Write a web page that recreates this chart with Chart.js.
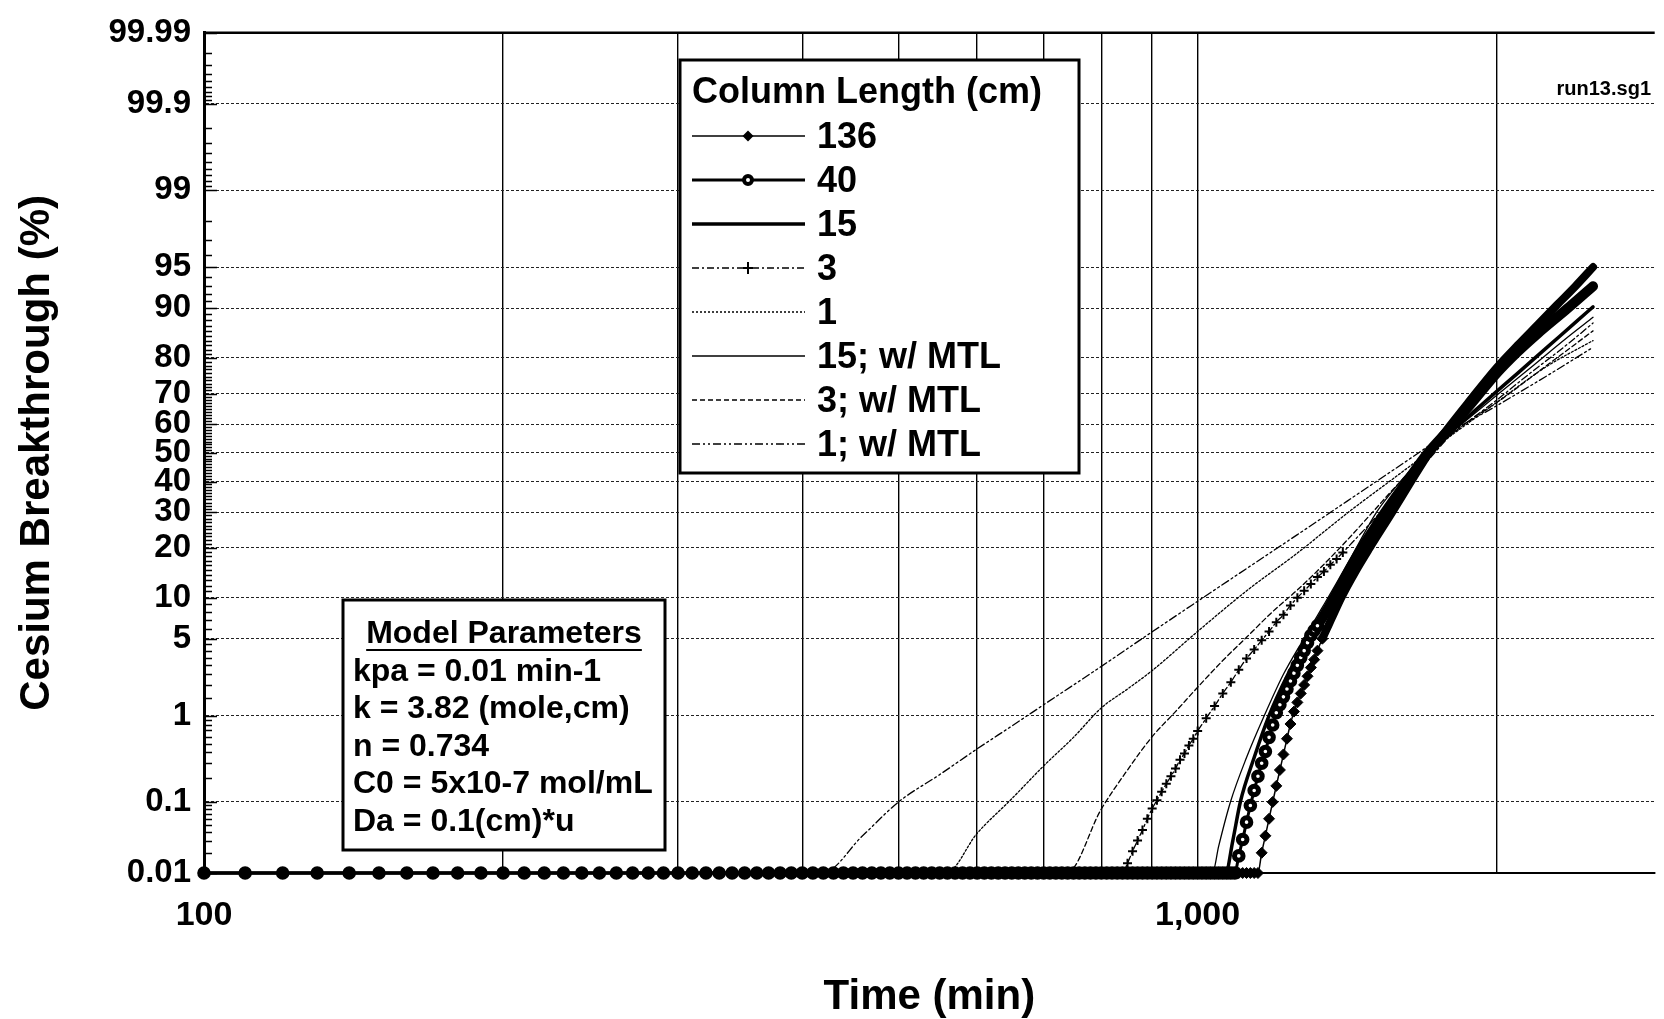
<!DOCTYPE html>
<html lang="en">
<head>
<meta charset="UTF-8">
<title>Cesium Breakthrough - run13</title>
<script src="https://cdn.jsdelivr.net/npm/chart.js"></script>
<style>
  html, body { margin: 0; padding: 0; background: #fff; overflow: hidden; }
</style>
</head>
<body>
<canvas id="breakthrough" width="1664" height="1019"></canvas>
<script>
// ---- values: time in min, breakthrough in % ----
const yTickValues = [0.01, 0.1, 1, 5, 10, 20, 30, 40, 50, 60, 70, 80, 90, 95, 99, 99.9, 99.99];
const yMinorRanges = [[0.01, 0.1, 0.01], [0.1, 1, 0.1], [1, 5, 0.5], [5, 10, 1], [10, 90, 1], [90, 99, 1], [99, 99.9, 0.1], [99.9, 99.99, 0.01]];
const xTickValues = [100, 200, 300, 400, 500, 600, 700, 800, 900, 1000, 2000];
const xTickLabels = { 100: '100', 1000: '1,000' };
const seriesNames = ['136', '40', '15', '3', '1', '15; w/ MTL', '3; w/ MTL', '1; w/ MTL'];
const modelParams = ['kpa = 0.01 min-1', 'k = 3.82 (mole,cm)', 'n = 0.734', 'C0 = 5x10-7 mol/mL', 'Da = 0.1(cm)*u'];

// model output sits on the 0.01 % floor (one point every 10 min) until breakthrough
const floorLevel = 0.01;
const floorTimes = [100, 110, 120, 130, 140, 150, 160, 170, 180, 190,
  200, 210, 220, 230, 240, 250, 260, 270, 280, 290,
  300, 310, 320, 330, 340, 350, 360, 370, 380, 390,
  400, 410, 420, 430, 440, 450, 460, 470, 480, 490,
  500, 510, 520, 530, 540, 550, 560, 570, 580, 590,
  600, 610, 620, 630, 640, 650, 660, 670, 680, 690,
  700, 710, 720, 730, 740, 750, 760, 770, 780, 790,
  800, 810, 820, 830, 840, 850, 860, 870, 880, 890,
  900, 910, 920, 930, 940, 950, 960, 970, 980, 990,
  1000, 1010, 1020, 1030, 1040, 1050, 1060, 1070, 1080, 1090,
  1100, 1110, 1120, 1130, 1140, 1150];

// 136 cm (diamonds)
const t136 = [1160, 1170, 1180, 1190, 1200, 1210, 1220, 1230, 1240, 1250, 1260, 1270, 1280, 1290, 1300, 1310, 1320, 1335,
  1365, 1395, 1440, 1490, 1570, 1640, 1710, 1780, 1870, 2000, 2100, 2200, 2300, 2400, 2500];
const p136 = [0.02, 0.035, 0.06, 0.10, 0.16, 0.25, 0.38, 0.57, 0.82, 1.1, 1.36, 1.66, 2.0, 2.4, 2.87, 3.36, 4.0, 5.0,
  7.2, 10, 14.5, 20, 30, 40, 50, 58, 67, 77.5, 83, 87.2, 90.5, 93, 95];

// 40 cm (circles)
const t40 = [1100, 1110, 1120, 1130, 1140, 1150, 1160, 1170, 1180, 1190, 1200, 1210, 1220, 1230, 1240, 1250, 1260, 1270,
  1280, 1290, 1300, 1310, 1320, 1374, 1420, 1470, 1550, 1625, 1705, 1790, 1890, 2000, 2100, 2200, 2350, 2500];
const p40 = [0.018, 0.031, 0.054, 0.09, 0.14, 0.21, 0.30, 0.41, 0.59, 0.80, 1.07, 1.29, 1.54, 1.83, 2.17, 2.56, 3.0, 3.5,
  4.0, 4.65, 5.3, 5.8, 6.3, 10, 14.3, 20, 30, 40, 50, 58.2, 67.3, 76, 81.5, 85.5, 89.8, 93];

// 15 cm
const t15 = [100, 1067, 1085, 1104, 1140, 1180, 1230, 1290, 1360, 1450, 1530, 1610, 1700, 1800, 1900, 2000, 2100, 2250, 2400, 2500];
const p15 = [0.01, 0.01, 0.03, 0.1, 0.35, 1, 2.4, 5, 10, 20, 30, 40, 50, 57.5, 64.5, 70.7, 76, 82.6, 87.6, 90.2];

// 3 cm (plus markers)
const t3 = [850, 860, 870, 880, 890, 900, 910, 920, 930, 940, 950, 960, 970, 980, 990, 1000,
  1020, 1040, 1060, 1080, 1100, 1120, 1140, 1160, 1180, 1200, 1220, 1240, 1260, 1280, 1300, 1320, 1340, 1360, 1380, 1400,
  1500, 1600, 1700, 1800, 1900, 2000, 2100, 2200, 2300, 2400, 2500];
const p3 = [0.014, 0.021, 0.030, 0.042, 0.060, 0.082, 0.105, 0.135, 0.17, 0.21, 0.26, 0.33, 0.39, 0.48, 0.57, 0.69,
  0.94, 1.25, 1.66, 2.12, 2.74, 3.44, 4.09, 4.85, 5.7, 6.7, 7.6, 8.85, 10, 11.1, 12.3, 13.6, 14.7, 16.1, 17.4, 18.9,
  27.4, 37.1, 46.8, 56.4, 62.6, 68, 73.2, 77.6, 81.3, 84.6, 87.5];

// 1 cm
const t1 = [100, 558, 600, 650, 700, 750, 800, 850, 900, 1000, 1122, 1259, 1413, 1585, 1778, 1995, 2239, 2500];
const p1 = [0.01, 0.01, 0.038, 0.11, 0.28, 0.59, 1.2, 1.83, 2.7, 5.7, 11.2, 18.7, 29.6, 41.8, 54.8, 67, 77.6, 84];

// 15 cm with mass transfer limitation
const t15m = [100, 1035, 1050, 1079, 1120, 1167, 1220, 1279, 1334, 1380, 1429, 1514, 1600, 1700, 1820, 2000, 2180, 2350, 2500];
const p15m = [0.01, 0.01, 0.025, 0.1, 0.35, 1, 2.5, 5, 8.5, 12.5, 18, 30, 40, 50, 58.5, 69.5, 78.2, 84.5, 88.5];

// 3 cm with MTL
const t3m = [100, 738, 800, 850, 900, 950, 1000, 1060, 1122, 1190, 1259, 1330, 1413, 1500, 1600, 1700, 1778, 1900, 2000, 2239, 2500];
const p3m = [0.01, 0.01, 0.081, 0.25, 0.6, 1.1, 1.9, 3.3, 5.2, 8, 11.2, 15.5, 21.9, 30, 40, 49, 55, 62.5, 67.2, 77.8, 86];

// 1 cm with MTL
const t1m = [100, 419, 460, 500, 550, 600, 650, 700, 800, 900, 1000, 1122, 1259, 1413, 1585, 1778, 1995, 2239, 2500];
const p1m = [0.01, 0.01, 0.035, 0.1, 0.22, 0.44, 0.78, 1.29, 2.94, 5.66, 9.45, 15.4, 23.4, 33.4, 44.7, 56.4, 66, 75, 82.5];

const FONT = "'Liberation Sans', Arial, Helvetica, sans-serif";

function points(times, values) {
  return times.map((t, i) => ({ x: t, y: values[i] }));
}
function withFloor(times, values) {
  const floor = floorTimes.filter(t => t < times[0]).map(t => ({ x: t, y: floorLevel }));
  return floor.concat(points(times, values));
}

// inverse normal CDF (Acklam) for the probability axis
function probit(p) {
  const a = [-39.69683028665376, 220.9460984245205, -275.9285104469687, 138.3577518672690, -30.66479806614716, 2.506628277459239];
  const b = [-54.47609879822406, 161.5858368580409, -155.6989798598866, 66.80131188771972, -13.28068155288572];
  const c = [-0.007784894002430293, -0.3223964580411365, -2.400758277161838, -2.549732539343734, 4.374664141464968, 2.938163982698783];
  const d = [0.007784695709041462, 0.3224671290700398, 2.445134137142996, 3.754408661907416];
  const pl = 0.02425;
  let q, r;
  if (p < pl) {
    q = Math.sqrt(-2 * Math.log(p));
    return (((((c[0] * q + c[1]) * q + c[2]) * q + c[3]) * q + c[4]) * q + c[5]) / ((((d[0] * q + d[1]) * q + d[2]) * q + d[3]) * q + 1);
  }
  if (p <= 1 - pl) {
    q = p - 0.5; r = q * q;
    return (((((a[0] * r + a[1]) * r + a[2]) * r + a[3]) * r + a[4]) * r + a[5]) * q / (((((b[0] * r + b[1]) * r + b[2]) * r + b[3]) * r + b[4]) * r + 1);
  }
  q = Math.sqrt(-2 * Math.log(1 - p));
  return -(((((c[0] * q + c[1]) * q + c[2]) * q + c[3]) * q + c[4]) * q + c[5]) / ((((d[0] * q + d[1]) * q + d[2]) * q + d[3]) * q + 1);
}

// probability (normal) scale
class ProbitScale extends Chart.LinearScale {
  determineDataLimits() {
    this.min = this.options.min;
    this.max = this.options.max;
  }
  buildTicks() {
    this.start = this.min;
    this.end = this.max;
    return yTickValues.map(v => ({ value: v }));
  }
  getPixelForValue(value) {
    if (value === null || value === undefined) return NaN;
    const z0 = probit(this.min / 100), z1 = probit(this.max / 100);
    return this.getPixelForDecimal((probit(value / 100) - z0) / (z1 - z0));
  }
}
ProbitScale.id = 'probit';
ProbitScale.defaults = {};
Chart.register(ProbitScale);

function drawMarker(ctx, kind, x, y) {
  ctx.save();
  ctx.setLineDash([]);
  ctx.strokeStyle = '#000';
  ctx.fillStyle = '#000';
  if (kind === 'diamond') {
    const r = 5.5;
    ctx.beginPath();
    ctx.moveTo(x, y - r); ctx.lineTo(x + r, y); ctx.lineTo(x, y + r); ctx.lineTo(x - r, y);
    ctx.closePath(); ctx.fill();
  } else if (kind === 'circle') {
    ctx.lineWidth = 4;
    ctx.beginPath(); ctx.arc(x, y, 4, 0, Math.PI * 2);
    ctx.fillStyle = '#fff'; ctx.fill(); ctx.stroke();
  } else if (kind === 'plus') {
    ctx.lineWidth = 2;
    ctx.beginPath();
    ctx.moveTo(x - 5, y); ctx.lineTo(x + 5, y); ctx.moveTo(x, y - 6); ctx.lineTo(x, y + 6);
    ctx.stroke();
  }
  ctx.restore();
}

const decorations = {
  id: 'decorations',
  beforeDatasetsDraw(chart) {
    const { ctx, chartArea: area, scales: { y } } = chart;
    ctx.save();
    ctx.strokeStyle = '#000';
    ctx.lineWidth = 1.3;
    ctx.beginPath();
    yMinorRanges.forEach(([lo, hi, step]) => {
      for (let k = 1; lo + k * step < hi - step / 2; k++) {
        const py = Math.round(y.getPixelForValue(+(lo + k * step).toFixed(4))) + 0.5;
        ctx.moveTo(area.left, py); ctx.lineTo(area.left + 8, py);
      }
    });
    yTickValues.forEach(v => {
      const py = Math.round(y.getPixelForValue(v)) + 0.5;
      ctx.moveTo(area.left, py); ctx.lineTo(area.left + 13, py);
    });
    ctx.stroke();
    // top frame line
    ctx.lineWidth = 2.5;
    ctx.beginPath(); ctx.moveTo(area.left, area.top); ctx.lineTo(area.right, area.top); ctx.stroke();
    ctx.restore();
  },
  afterDatasetsDraw(chart) {
    const ctx = chart.ctx;
    ctx.save();
    ctx.strokeStyle = '#000';

    // legend box
    ctx.fillStyle = '#fff';
    ctx.fillRect(680, 60, 399, 413);
    ctx.lineWidth = 3;
    ctx.strokeRect(680, 60, 399, 413);
    ctx.fillStyle = '#000';
    ctx.textAlign = 'left';
    ctx.textBaseline = 'middle';
    ctx.font = 'bold 36px ' + FONT;
    ctx.fillText('Column Length (cm)', 692, 93);
    chart.data.datasets.forEach((ds, i) => {
      const ly = 136 + i * 44;
      ctx.save();
      ctx.lineWidth = ds.borderWidth;
      ctx.setLineDash(ds.borderDash || []);
      ctx.beginPath(); ctx.moveTo(692, ly); ctx.lineTo(805, ly); ctx.stroke();
      ctx.restore();
      if (ds.legendMarker) drawMarker(ctx, ds.legendMarker, 748, ly);
      ctx.font = 'bold 36px ' + FONT;
      ctx.fillText(ds.label, 817, ly + 2);
    });

    // model parameters box
    ctx.fillStyle = '#fff';
    ctx.fillRect(343, 600, 322, 250);
    ctx.lineWidth = 3;
    ctx.strokeRect(343, 600, 322, 250);
    ctx.fillStyle = '#000';
    ctx.font = 'bold 32px ' + FONT;
    ctx.textAlign = 'center';
    ctx.fillText('Model Parameters', 504, 634);
    const hw = ctx.measureText('Model Parameters').width;
    ctx.lineWidth = 2;
    ctx.beginPath(); ctx.moveTo(504 - hw / 2, 650); ctx.lineTo(504 + hw / 2, 650); ctx.stroke();
    ctx.textAlign = 'left';
    modelParams.forEach((line, i) => ctx.fillText(line, 353, 672 + i * 37.5));

    // file tag
    ctx.font = 'bold 20px ' + FONT;
    ctx.textAlign = 'right';
    ctx.fillText('run13.sg1', 1651, 89);
    ctx.restore();
  }
};

const base = {
  borderColor: '#000',
  pointBorderColor: '#000',
  fill: false,
  clip: false,
  cubicInterpolationMode: 'monotone',
  borderCapStyle: 'round',
  borderJoinStyle: 'round',
  pointRadius: 0
};

const datasets = [
  Object.assign({}, base, {
    label: seriesNames[0], data: withFloor(t136, p136), order: 1,
    borderWidth: 1.5, legendMarker: 'diamond',
    pointStyle: 'rectRot', pointBackgroundColor: '#000', pointBorderWidth: 1,
    pointRadius: c => (c.raw && c.raw.x <= 1335) ? 5.5 : 0,
    segment: { borderWidth: c => c.p0.parsed.x >= 1335 ? 8 : undefined }
  }),
  Object.assign({}, base, {
    label: seriesNames[1], data: withFloor(t40, p40), order: 0,
    borderWidth: 3, legendMarker: 'circle',
    pointStyle: 'circle', pointBorderWidth: 5,
    pointBackgroundColor: c => (c.raw && c.raw.y <= floorLevel) ? '#000' : '#fff',
    pointRadius: c => (c.raw && c.raw.x <= 1320) ? 4.3 : 0,
    segment: { borderWidth: c => c.p0.parsed.x >= 1320 ? 10 : undefined }
  }),
  Object.assign({}, base, {
    label: seriesNames[2], data: points(t15, p15), order: 2, borderWidth: 3.5
  }),
  Object.assign({}, base, {
    label: seriesNames[3], data: withFloor(t3, p3), order: 3,
    borderWidth: 1.3, borderDash: [7, 3, 2, 3], legendMarker: 'plus',
    pointStyle: 'cross', pointBorderWidth: 2,
    pointRadius: c => (c.raw && c.raw.x <= 1400) ? 4.5 : 0
  }),
  Object.assign({}, base, {
    label: seriesNames[4], data: points(t1, p1), order: 4, borderWidth: 1.3, borderDash: [2, 2]
  }),
  Object.assign({}, base, {
    label: seriesNames[5], data: points(t15m, p15m), order: 5, borderWidth: 1.3
  }),
  Object.assign({}, base, {
    label: seriesNames[6], data: points(t3m, p3m), order: 6, borderWidth: 1.3, borderDash: [5, 3]
  }),
  Object.assign({}, base, {
    label: seriesNames[7], data: points(t1m, p1m), order: 7, borderWidth: 1.3, borderDash: [8, 3, 2, 3, 2, 3]
  })
];

const tickFont = (size, lh) => ({ family: FONT, weight: 'bold', size: size, lineHeight: lh || 1.2 });

new Chart(document.getElementById('breakthrough'), {
  type: 'line',
  data: { datasets: datasets },
  options: {
    responsive: false,
    animation: false,
    events: [],
    layout: { padding: { top: 30, right: 0, bottom: 0, left: 0 } },
    plugins: { legend: { display: false }, tooltip: { enabled: false } },
    scales: {
      x: {
        type: 'logarithmic',
        min: 100,
        max: 2884,
        afterBuildTicks: s => { s.ticks = xTickValues.map(v => ({ value: v })); },
        afterFit: s => { s.height = 146; },
        grid: { color: '#000', lineWidth: 1.4, drawTicks: false },
        border: { color: '#000', width: 2 },
        ticks: {
          autoSkip: false, maxRotation: 0, padding: 22, color: '#000', font: tickFont(34),
          callback: v => xTickLabels[v] || ''
        },
        title: {
          display: true, text: 'Time (min)', color: '#000',
          font: tickFont(42, 1.05), padding: { top: 0, bottom: 0 }
        }
      },
      y: {
        type: 'probit',
        min: 0.01,
        max: 99.99,
        afterFit: s => { s.width = 204; },
        grid: { color: '#222', lineWidth: 1, drawTicks: false },
        border: { color: '#000', width: 3, dash: [3, 2] },
        ticks: {
          autoSkip: false, padding: 13, color: '#000', font: tickFont(33),
          callback: v => String(v)
        },
        title: {
          display: true, text: 'Cesium Breakthrough (%)', color: '#000',
          font: tickFont(42), padding: { top: 12, bottom: 0 }
        }
      }
    }
  },
  plugins: [decorations]
});
</script>
</body>
</html>
